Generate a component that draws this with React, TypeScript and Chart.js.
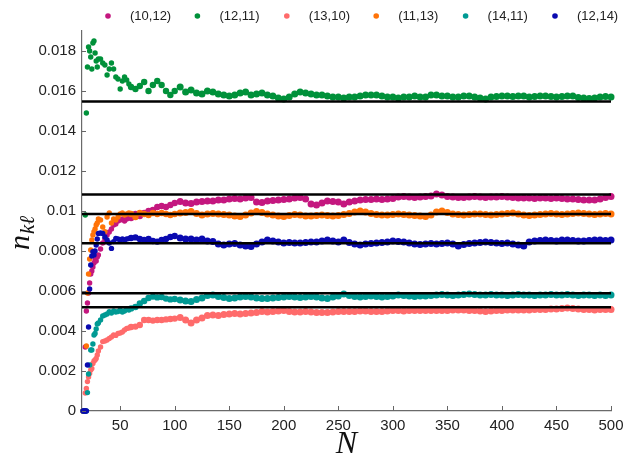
import React, { useEffect, useRef } from 'react';
import { Chart, registerables } from 'chart.js';

Chart.register(...registerables);

// Sample sizes N (x values)
const nValues = [
  16, 17, 18, 19, 20, 21, 22, 23, 24, 25, 26, 27, 28, 29, 30,
  32, 34, 36, 38, 40, 42, 44, 46, 48, 50, 52, 54, 56, 58, 60,
  64, 68, 72, 76, 80, 84, 88, 92, 96, 100,
  105, 110, 115, 120, 125, 130, 135, 140, 145, 150, 155, 160, 165, 170, 175, 180, 185, 190, 195, 200,
  205, 210, 215, 220, 225, 230, 235, 240, 245, 250, 255, 260, 265, 270, 275, 280, 285, 290, 295, 300,
  305, 310, 315, 320, 325, 330, 335, 340, 345, 350, 355, 360, 365, 370, 375, 380, 385, 390, 395, 400,
  405, 410, 415, 420, 425, 430, 435, 440, 445, 450, 455, 460, 465, 470, 475, 480, 485, 490, 495, 500,
];

// Series values, in units of 1e-3
const s10_12 = [
  0, 0, 3.2, 5.0, 5.4, 5.9, 6.4, 6.85, 7.0, 7.2, 7.4, 7.55, 7.5, 7.7, 7.8,
  8.1, 8.4, 8.6, 8.8, 8.95, 9.1, 9.3, 9.35, 9.5, 9.55, 9.6, 9.5, 9.6, 9.7, 9.65,
  9.85, 9.75, 9.9, 10.0, 10.05, 10.2, 10.25, 10.2, 10.3, 10.4,
  10.47, 10.4, 10.38, 10.45, 10.47, 10.5, 10.5, 10.55, 10.55, 10.6, 10.63, 10.6, 10.65, 10.68, 10.45, 10.42, 10.5, 10.52, 10.55, 10.58,
  10.6, 10.65, 10.68, 10.6, 10.35, 10.3, 10.4, 10.5, 10.47, 10.45, 10.35, 10.45, 10.5, 10.55, 10.58, 10.58, 10.6, 10.58, 10.6, 10.62,
  10.7, 10.72, 10.7, 10.68, 10.7, 10.72, 10.75, 10.85, 10.8, 10.72, 10.7, 10.68, 10.68, 10.7, 10.72, 10.7, 10.68, 10.7, 10.7, 10.72,
  10.7, 10.68, 10.65, 10.65, 10.65, 10.62, 10.65, 10.65, 10.62, 10.65, 10.62, 10.6, 10.6, 10.58, 10.55, 10.55, 10.55, 10.6, 10.68, 10.72,
];

const s12_11 = [
  0, 0, 9.8, 14.9, 17.2, 18.2, 18.0, 17.7, 17.1, 18.4, 18.5, 17.9, 17.5, 17.2, 17.6,
  17.6, 17.4, 17.3, 16.8, 17.1, 17.4, 17.1, 16.7, 16.6, 16.1, 16.5, 16.7, 16.55, 16.35, 16.2,
  16.1, 16.25, 16.45, 16.0, 16.3, 16.5, 16.3, 16.0, 15.8, 16.0,
  16.2, 15.95, 16.05, 15.9, 15.85, 16.0, 15.95, 15.85, 15.8, 15.75, 15.8, 15.9, 15.95, 15.8, 15.85, 15.9, 15.8, 15.75, 15.65, 15.6,
  15.7, 15.85, 15.95, 15.9, 15.85, 15.8, 15.8, 15.75, 15.7, 15.7, 15.65, 15.7, 15.7, 15.75, 15.8, 15.8, 15.8, 15.75, 15.7, 15.7,
  15.65, 15.7, 15.7, 15.75, 15.7, 15.7, 15.8, 15.8, 15.75, 15.75, 15.7, 15.7, 15.75, 15.75, 15.7, 15.65, 15.6, 15.7, 15.72, 15.75,
  15.75, 15.72, 15.75, 15.75, 15.7, 15.72, 15.75, 15.75, 15.72, 15.7, 15.72, 15.75, 15.75, 15.68, 15.65, 15.62, 15.65, 15.7, 15.72, 15.7,
];

const s13_10 = [
  0, 0, 0.9, 1.13, 1.47, 1.7, 1.88, 2.05, 2.13, 2.38, 2.5, 2.55, 2.63, 2.8, 3.0,
  3.2, 3.47, 3.5, 3.55, 3.63, 3.7, 3.8, 3.78, 3.88, 3.9, 3.95, 4.05, 4.13, 4.15, 4.2,
  4.22, 4.3, 4.55, 4.55, 4.52, 4.55, 4.55, 4.58, 4.6, 4.62,
  4.68, 4.55, 4.4, 4.55, 4.65, 4.78, 4.8, 4.78, 4.82, 4.85, 4.88, 4.85, 4.88, 4.9, 4.92, 4.97, 4.95, 4.97, 5.0, 5.02,
  4.98, 4.95, 4.95, 4.97, 4.95, 4.92, 4.92, 4.92, 4.95, 4.97, 4.98, 4.97, 4.98, 5.0, 5.0, 4.98, 4.97, 4.98, 5.0, 5.02,
  5.02, 5.0, 5.02, 5.02, 5.03, 5.02, 5.03, 5.03, 5.02, 5.03, 5.05, 5.05, 5.05, 5.03, 5.02, 5.0, 4.98, 5.0, 5.02, 5.03,
  5.05, 5.05, 5.05, 5.05, 5.05, 5.07, 5.08, 5.08, 5.1, 5.1, 5.12, 5.15, 5.13, 5.1, 5.08, 5.07, 5.05, 5.07, 5.07, 5.08,
];

const s11_13 = [
  0, 0, 0, 3.25, 5.9, 6.85, 7.6, 8.05, 8.55, 8.8, 8.97, 9.1, 9.3, 9.4, 9.6,
  9.55, 9.2, 8.97, 9.7, 9.9, 9.4, 9.6, 9.55, 9.7, 9.85, 9.9, 9.8, 9.85, 9.9, 9.85,
  9.7, 9.9, 9.85, 9.8, 9.9, 9.85, 9.9, 9.85, 9.8, 9.85,
  9.9, 9.92, 9.97, 9.88, 9.8, 9.85, 9.88, 9.85, 9.82, 9.8, 9.75, 9.72, 9.8, 9.9, 9.97, 9.92, 9.85, 9.8, 9.75, 9.72,
  9.78, 9.82, 9.8, 9.75, 9.75, 9.78, 9.8, 9.78, 9.75, 9.78, 9.82, 9.88, 9.95, 10.0, 9.95, 9.88, 9.82, 9.8, 9.8, 9.82,
  9.85, 9.82, 9.8, 9.78, 9.75, 9.72, 9.8, 9.95, 10.0, 9.92, 9.85, 9.82, 9.8, 9.82, 9.85, 9.85, 9.82, 9.8, 9.82, 9.85,
  9.88, 9.9, 9.85, 9.8, 9.78, 9.8, 9.82, 9.85, 9.88, 9.85, 9.82, 9.85, 9.88, 9.9, 9.88, 9.85, 9.82, 9.85, 9.88, 9.85,
];

const s14_11 = [
  0, 0, 0, 0, 0.92, 1.85, 2.3, 3.05, 3.05, 3.35, 3.8, 3.88, 4.1, 4.35, 4.4,
  4.55, 4.75, 4.8, 4.85, 4.97, 4.9, 5.0, 4.95, 4.97, 5.05, 4.95, 5.0, 5.1, 5.05, 5.13,
  5.2, 5.38, 5.5, 5.65, 5.72, 5.68, 5.7, 5.62, 5.58, 5.6,
  5.55, 5.5, 5.47, 5.58, 5.65, 5.78, 5.8, 5.72, 5.68, 5.63, 5.65, 5.7, 5.72, 5.7, 5.65, 5.63, 5.63, 5.65, 5.68, 5.7,
  5.72, 5.7, 5.68, 5.7, 5.72, 5.7, 5.65, 5.63, 5.7, 5.75, 5.85, 5.78, 5.72, 5.7, 5.72, 5.75, 5.72, 5.7, 5.72, 5.75,
  5.8, 5.78, 5.75, 5.72, 5.75, 5.75, 5.78, 5.8, 5.82, 5.8, 5.78, 5.8, 5.82, 5.85, 5.82, 5.8, 5.8, 5.82, 5.8, 5.8,
  5.78, 5.8, 5.82, 5.8, 5.8, 5.78, 5.8, 5.8, 5.82, 5.8, 5.8, 5.82, 5.8, 5.78, 5.8, 5.8, 5.78, 5.8, 5.78, 5.8,
];

const s12_14 = [
  0, 0, 0, 0, 2.3, 4.2, 6.1, 7.3, 7.75, 7.97, 7.8, 8.0, 8.3, 8.6, 8.88,
  8.9, 8.88, 8.7, 8.55, 8.4, 8.13, 8.47, 8.63, 8.6, 8.55, 8.6, 8.55, 8.6, 8.62, 8.65,
  8.68, 8.6, 8.55, 8.6, 8.5, 8.47, 8.55, 8.6, 8.7, 8.75,
  8.65, 8.6, 8.6, 8.55, 8.6, 8.5, 8.47, 8.35, 8.3, 8.35, 8.38, 8.3, 8.25, 8.22, 8.35, 8.45, 8.55, 8.5, 8.45, 8.4,
  8.42, 8.4, 8.4, 8.42, 8.45, 8.45, 8.5, 8.55, 8.5, 8.45, 8.55, 8.42, 8.35, 8.3, 8.35, 8.38, 8.4, 8.42, 8.45, 8.5,
  8.47, 8.45, 8.4, 8.35, 8.32, 8.35, 8.38, 8.35, 8.38, 8.4, 8.35, 8.25, 8.32, 8.38, 8.4, 8.42, 8.45, 8.42, 8.4, 8.38,
  8.4, 8.35, 8.3, 8.25, 8.45, 8.5, 8.52, 8.55, 8.52, 8.5, 8.55, 8.55, 8.52, 8.5, 8.5, 8.52, 8.55, 8.55, 8.52, 8.55,
];

// Reference (limit) levels, in units of 1e-3
const refLevels = [15.47, 10.83, 9.85, 8.385, 5.885, 5.185];

const seriesLabels = ['(10,12)', '(12,11)', '(13,10)', '(11,13)', '(14,11)', '(12,14)'];
const seriesValues = [s10_12, s12_11, s13_10, s11_13, s14_11, s12_14];
const seriesColors = ['#c4177f', '#00913a', '#ff6b6b', '#ff7308', '#009a94', '#0a0ab0'];

const xTicks = [50, 100, 150, 200, 250, 300, 350, 400, 450, 500];
const yTicks = [0, 0.002, 0.004, 0.006, 0.008, 0.01, 0.012, 0.014, 0.016, 0.018];
const X_MIN = 15;
const X_MAX = 500;
const Y_MIN = 0;
const Y_MAX = 0.019;
const UNIT = 1e-3;

const TICK_FONT = { family: '"Liberation Sans", Arial, sans-serif', size: 15 };

const decorPlugin = {
  id: 'decor',
  afterDraw(chart: any) {
    const { ctx, chartArea, scales } = chart;
    const xs = scales.x;
    const ys = scales.y;
    ctx.save();
    // inward tick marks
    ctx.strokeStyle = '#666';
    ctx.lineWidth = 1;
    for (const t of xs.ticks) {
      const px = Math.round(xs.getPixelForValue(t.value)) + 0.5;
      ctx.beginPath();
      ctx.moveTo(px, chartArea.bottom);
      ctx.lineTo(px, chartArea.bottom - 5);
      ctx.stroke();
    }
    for (const t of ys.ticks) {
      const py = Math.round(ys.getPixelForValue(t.value)) + 0.5;
      ctx.beginPath();
      ctx.moveTo(chartArea.left, py);
      ctx.lineTo(chartArea.left + 4, py);
      ctx.stroke();
    }
    // legend
    ctx.font = '13px "Liberation Sans", Arial, sans-serif';
    ctx.textBaseline = 'middle';
    ctx.textAlign = 'left';
    chart.data.datasets.forEach((ds: any) => {
      if (!ds.legendLabel) return;
      const idx = ds.legendIndex;
      const cx = 108 + idx * 89.4;
      const cy = 16;
      ctx.fillStyle = ds.backgroundColor;
      ctx.beginPath();
      ctx.arc(cx, cy, 2.8, 0, Math.PI * 2);
      ctx.fill();
      ctx.fillStyle = '#222';
      ctx.fillText(ds.legendLabel, cx + 22, cy);
    });
    // x axis title
    ctx.fillStyle = '#111';
    ctx.textAlign = 'center';
    ctx.textBaseline = 'alphabetic';
    ctx.font = 'italic 32px "Liberation Serif", "DejaVu Serif", serif';
    ctx.fillText('N', (chartArea.left + chartArea.right) / 2, 453);
    // y axis title: n_{kℓ}
    ctx.save();
    ctx.translate(29, 250);
    ctx.rotate(-Math.PI / 2);
    ctx.textAlign = 'left';
    ctx.font = 'italic 30px "Liberation Serif", "DejaVu Serif", serif';
    ctx.fillText('n', 0, 0);
    const w = ctx.measureText('n').width;
    ctx.font = 'italic 21px "Liberation Serif", "DejaVu Serif", serif';
    ctx.fillText('kℓ', w + 1, 5);
    ctx.restore();
    ctx.restore();
  },
};

export default function App() {
  const canvasRef = useRef<HTMLCanvasElement | null>(null);

  useEffect(() => {
    const canvas = canvasRef.current;
    if (!canvas) return;

    const refDatasets = refLevels.map((lvl) => ({
      type: 'line' as const,
      data: [
        { x: X_MIN, y: lvl * UNIT },
        { x: X_MAX, y: lvl * UNIT },
      ],
      borderColor: '#000',
      borderWidth: 2.5,
      pointRadius: 0,
      showLine: true,
      fill: false,
      order: 0,
    }));

    const drawOrder = [6, 5, 4, 3, 2, 1];
    // sparse early points look like single dots; later points merge into a band
    const radiusFor = (ctx: any) => {
      const n = ctx.raw ? ctx.raw.x : 0;
      if (n > 100) return 3.5;
      if (n >= 60) return 3.2;
      return 2.7;
    };
    const scatterDatasets = seriesValues.map((vals, i) => ({
      type: 'scatter' as const,
      legendLabel: seriesLabels[i],
      legendIndex: i,
      data: nValues.map((n, k) => ({ x: n, y: vals[k] * UNIT })),
      backgroundColor: seriesColors[i],
      borderColor: seriesColors[i],
      pointRadius: radiusFor,
      pointBorderWidth: 0,
      pointHoverRadius: 0,
      showLine: false,
      clip: false,
      order: drawOrder[i],
    }));

    const chart = new Chart(canvas, {
      type: 'scatter',
      data: { datasets: [...refDatasets, ...scatterDatasets] as any },
      options: {
        responsive: false,
        animation: false,
        events: [],
        layout: { padding: { left: 0, right: 23, top: 31, bottom: 0 } },
        plugins: {
          legend: { display: false },
          tooltip: { enabled: false },
        },
        scales: {
          x: {
            type: 'linear',
            min: X_MIN,
            max: X_MAX,
            afterBuildTicks: (s: any) => {
              s.ticks = xTicks.map((v) => ({ value: v }));
            },
            afterFit: (s: any) => {
              s.height = 48;
            },
            grid: { display: false, drawTicks: false },
            border: { display: true, color: '#6a6a6a', width: 1.2 },
            ticks: {
              autoSkip: false,
              maxRotation: 0,
              padding: 6,
              color: '#222',
              font: TICK_FONT,
              callback: (v: any) => String(v),
            },
          },
          y: {
            type: 'linear',
            min: Y_MIN,
            max: Y_MAX,
            afterBuildTicks: (s: any) => {
              s.ticks = yTicks.map((v) => ({ value: v }));
            },
            afterFit: (s: any) => {
              s.width = 82;
            },
            grid: { display: false, drawTicks: false },
            border: { display: true, color: '#6a6a6a', width: 1.2 },
            ticks: {
              autoSkip: false,
              padding: 6,
              color: '#222',
              font: TICK_FONT,
              callback: (v: any) => String(Number(Number(v).toFixed(3))),
            },
          },
        },
      },
      plugins: [decorPlugin],
    });

    return () => chart.destroy();
  }, []);

  return (
    <div style={{ position: 'absolute', left: 0, top: 0, width: 634, height: 459, background: '#fff' }}>
      <canvas ref={canvasRef} width={634} height={459} />
    </div>
  );
}
